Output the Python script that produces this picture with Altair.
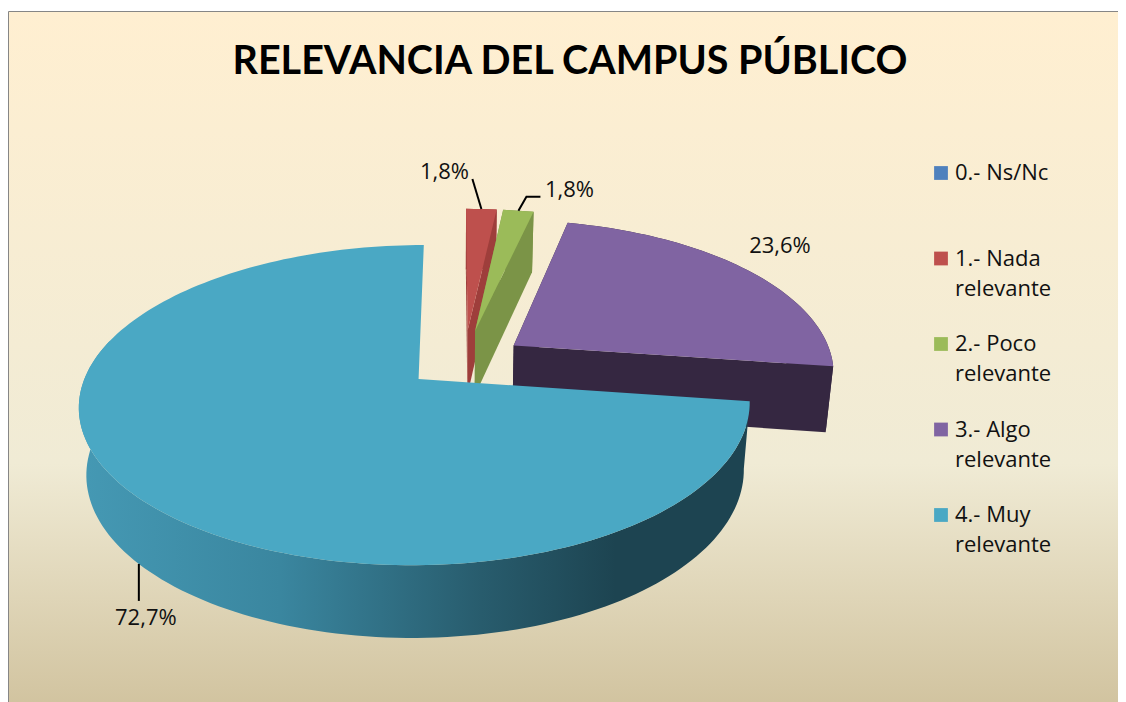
import math
import altair as alt
import pandas as pd

# ---- data
categories = ["0.- Ns/Nc", "1.- Nada\nrelevante", "2.- Poco\nrelevante", "3.- Algo\nrelevante", "4.- Muy\nrelevante"]
shares = [0.0, 1.8, 1.8, 23.6, 72.7]
value_labels = ["", "1,8%", "1,8%", "23,6%", "72,7%"]
title_text = "RELEVANCIA DEL CAMPUS PÚBLICO"

# ---- styles
top_colors = ["#4F81BD", "#BE504D", "#9BBB59", "#8064A2", "#4AA8C4"]
side_colors = ["#3A6090", "#9E3E3B", "#7B9447", "#352741", "#1D4451"]

# ---- 3D pie layout (page pixels)
W, H = 1110, 694
X0, Y0, RX, RY = 456.0, 364.0, 325.0, 151.0
PERSP, SKEW, DEPTH, SHRINK = 0.16, 0.01, 66.0, 0.98
START_ANGLE = 0.0
EXPLODE = [0.0, 0.23, 0.23, 0.22, 0.15]
SHIFT_U = [0.0, 0.024, 0.022, 0.0, 0.0]


def project(u, v, bottom=False):
    s = 1 / (1 + PERSP * v)
    x = X0 + RX * u * s * (1 - SKEW * u)
    y = Y0 - RY * v * s
    if bottom:
        x = X0 + (x - X0) * SHRINK
        y = y + DEPTH * math.sqrt(s)
    return [round(x, 2), round(y, 2)]


total = sum(shares)
slices = []
angle = START_ANGLE
for i, share in enumerate(shares):
    sweep = 360 * share / total
    mid = math.radians(angle + sweep / 2)
    slices.append(dict(a0=angle, a1=angle + sweep,
                       cu=EXPLODE[i] * math.sin(mid) + SHIFT_U[i], cv=EXPLODE[i] * math.cos(mid)))
    angle += sweep


def rim(sl, deg, bottom=False):
    t = math.radians(deg)
    return project(sl["cu"] + math.sin(t), sl["cv"] + math.cos(t), bottom)


def arc_degs(sl):
    n = max(2, int((sl["a1"] - sl["a0"]) / 1.5))
    return [sl["a0"] + (sl["a1"] - sl["a0"]) * k / n for k in range(n + 1)]


def feature(points, fill):
    return {"type": "Feature",
            "geometry": {"type": "Polygon", "coordinates": [points + [points[0]]]},
            "properties": {"fill": fill}}


back_features, front_features = [], []
for i in [1, 2, 3]:
    sl = slices[i]
    apex_t, apex_b = project(sl["cu"], sl["cv"]), project(sl["cu"], sl["cv"], True)
    side = side_colors[i]
    degs = arc_degs(sl)
    back_features.append(feature([apex_t, rim(sl, sl["a0"]), rim(sl, sl["a0"], True), apex_b], side))
    back_features.append(feature([rim(sl, d) for d in degs] + [rim(sl, d, True) for d in reversed(degs)], side))
    back_features.append(feature([apex_t, rim(sl, sl["a1"]), rim(sl, sl["a1"], True), apex_b], side))
    back_features.append(feature([apex_t] + [rim(sl, d) for d in degs], top_colors[i]))

blue = slices[4]
blue_degs = arc_degs(blue)
blue_apex = project(blue["cu"], blue["cv"])
wall_degs = [d for d in blue_degs if d <= 285]
blue_wall = [feature([rim(blue, d) for d in wall_degs] + [rim(blue, d, True) for d in reversed(wall_degs)], "wall")]
front_features.append(feature([blue_apex] + [rim(blue, d) for d in blue_degs], top_colors[4]))

# ---- leaders and labels hang off each slice's rim
red_mid = (slices[1]["a0"] + slices[1]["a1"]) / 2
green_mid = (slices[2]["a0"] + slices[2]["a1"]) / 2
blue_mid = (blue["a0"] + blue["a1"]) / 2
r0, g0, b0 = rim(slices[1], red_mid), rim(slices[2], green_mid), rim(blue, blue_mid, True)
leaders = pd.DataFrame([
    dict(g="r", o=0, x=r0[0], y=r0[1]), dict(g="r", o=1, x=r0[0] - 9, y=r0[1] - 30),
    dict(g="g", o=0, x=g0[0], y=g0[1]), dict(g="g", o=1, x=g0[0] + 8, y=g0[1] - 14),
    dict(g="g", o=2, x=g0[0] + 22, y=g0[1] - 14),
    dict(g="b", o=0, x=b0[0], y=b0[1]), dict(g="b", o=1, x=b0[0], y=b0[1] + 37),
])
value_df = pd.DataFrame([
    dict(t=value_labels[1], x=r0[0] - 37, y=r0[1] - 37),
    dict(t=value_labels[2], x=g0[0] + 51, y=g0[1] - 21),
    dict(t=value_labels[3], x=780, y=246),
    dict(t=value_labels[4], x=b0[0] + 7, y=b0[1] + 54),
])

# ---- hand-placed legend
LEG_X, LEG_Y, LEG_STEP, LEG_LINE = 941, 173, 85.5, 30
legend_squares = pd.DataFrame([dict(x=LEG_X, y=LEG_Y + i * LEG_STEP, fill=top_colors[i]) for i in range(5)])
legend_text = []
for i, c in enumerate(categories):
    for j, line in enumerate(c.split("\n")):
        legend_text.append(dict(t=line, x=LEG_X + 14, y=LEG_Y + i * LEG_STEP + j * LEG_LINE))
legend_text = pd.DataFrame(legend_text)

xs = alt.Scale(domain=[8, 8 + W], range=[0, W], nice=False, zero=False)
ys = alt.Scale(domain=[8, 8 + H], range=[0, H], nice=False, zero=False)
X = lambda f="x": alt.X(f"{f}:Q", scale=xs, axis=None)
Y = lambda f="y": alt.Y(f"{f}:Q", scale=ys, axis=None)
TITLE_FONT = "Lato"
FONT = "Open Sans"

background = alt.Chart(pd.DataFrame({"a": [0]})).mark_rect(
    stroke="#868686", strokeWidth=1,
    fill=alt.Gradient(gradient="linear", x1=0, x2=0, y1=0, y2=1, stops=[
        alt.GradientStop(offset=0, color="#FFEFD1"),
        alt.GradientStop(offset=0.65, color="#F0EBD5"),
        alt.GradientStop(offset=1, color="#D1C39F"),
    ]),
).encode(x=alt.value(0.5), x2=alt.value(W + 5), y=alt.value(3.5), y2=alt.value(H + 5))

proj = dict(type="identity", scale=1, translate=[-8, -8])


def shapes(features):
    return alt.Chart(alt.Data(values=features)).mark_geoshape(strokeWidth=0).encode(
        color=alt.Color("properties.fill:N", scale=None, legend=None)).project(**proj)


wall = alt.Chart(alt.Data(values=blue_wall)).mark_geoshape(
    strokeWidth=0,
    fill=alt.Gradient(gradient="linear", x1=0, x2=1, y1=0, y2=0, stops=[
        alt.GradientStop(offset=0, color="#4599B4"),
        alt.GradientStop(offset=0.3, color="#3A869F"),
        alt.GradientStop(offset=0.6, color="#285C6D"),
        alt.GradientStop(offset=0.8, color="#1D4451"),
        alt.GradientStop(offset=1, color="#1D4451"),
    ]),
).project(**proj)

leader_lines = alt.Chart(leaders).mark_line(color="black", strokeWidth=2).encode(
    x=X(), y=Y(), detail="g:N", order="o:Q")
value_marks = alt.Chart(value_df).mark_text(font=FONT, fontSize=22, color="#111111", baseline="middle").encode(
    x=X(), y=Y(), text="t:N")
squares = alt.Chart(legend_squares).mark_square(size=190, opacity=1).encode(
    x=X(), y=Y(), color=alt.Color("fill:N", scale=None, legend=None))
legend_marks = alt.Chart(legend_text).mark_text(font=FONT, fontSize=22, color="#111111", align="left", baseline="middle").encode(
    x=X(), y=Y(), text="t:N")

chart = alt.layer(background, shapes(back_features), wall, shapes(front_features),
                  leader_lines, value_marks, squares, legend_marks).properties(
    width=W, height=H, padding=0,
    autosize=alt.AutoSizeParams(type="none"),
    title=alt.TitleParams(title_text, font=TITLE_FONT, fontSize=39.5, fontWeight="bold", color="black",
                          anchor="middle", offset=-74, dx=7),
).configure_view(stroke=None)

chart.save("out.html", embed_options={"renderer": "svg", "actions": False})
